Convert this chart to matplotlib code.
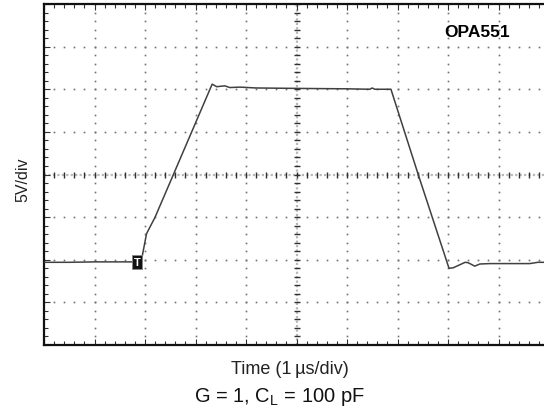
import matplotlib.pyplot as plt
import numpy as np

#%% data (divisions)
t_div = [0.0, 0.5, 1.0, 1.5, 1.9, 1.94, 1.98, 2.03, 2.2, 2.53, 3.33, 3.42,
         3.58, 3.68, 3.88, 4.2, 5.0, 6.0, 6.45, 6.5, 6.55, 6.87, 7.41, 8.02,
         8.1, 8.34, 8.4, 8.53, 8.63, 8.83, 9.62, 9.78, 10.0]
v_div = [-2.06, -2.06, -2.05, -2.05, -2.05, -1.95, -1.7, -1.39, -1.0, -0.09, 2.12, 2.06,
         2.08, 2.04, 2.05, 2.03, 2.02, 2.01, 2.0, 2.03, 2.0, 2.0, 0.0, -2.2,
         -2.19, -2.06, -2.07, -2.15, -2.1, -2.09, -2.09, -2.06, -2.06]

trigger_pos = (1.84, -2.05)
n_xdiv = 10
n_ydiv = 8

plt.rcParams['font.family'] = ['Liberation Sans', 'DejaVu Sans']

#%% figure
fig = plt.figure(figsize=(5.44, 4.10), dpi=100)
ax = fig.add_axes([44/544, 1 - 346/410, 505/544, 341/410])
ax.set_xlim(0, n_xdiv)
ax.set_ylim(-n_ydiv/2, n_ydiv/2)

# dotted graticule
minor_x = np.arange(0, n_xdiv + 0.01, 0.2)
minor_y = np.arange(-n_ydiv/2, n_ydiv/2 + 0.01, 0.2)
for yl in range(-3, 4):
    if yl == 0:
        continue
    ax.plot(minor_x, np.full_like(minor_x, yl), ls='none', marker='s', ms=1.2,
            mec='none', mfc='#707070', zorder=1)
for xl in range(1, n_xdiv):
    if xl == 5:
        continue
    ax.plot(np.full_like(minor_y, xl), minor_y, ls='none', marker='s', ms=1.2,
            mec='none', mfc='#707070', zorder=1)

# center cross with ticks
ax.axhline(0, color='#b8b8b8', lw=1.6, ls=(0, (1, 1)), zorder=1)
ax.axvline(5, color='#b8b8b8', lw=1.6, ls=(0, (1, 1)), zorder=1)
ax.plot(minor_x, np.zeros_like(minor_x), ls='none', marker='|', ms=5, mew=1,
        color='#303030', zorder=2)
ax.plot(np.full_like(minor_y, 5), minor_y, ls='none', marker='_', ms=5, mew=1,
        color='#303030', zorder=2)

# trace
ax.plot(t_div, v_div, color='#404040', lw=1.1, zorder=3)

# trigger marker
ax.text(trigger_pos[0], trigger_pos[1], 'T', color='white', fontsize=8, fontweight='bold',
        ha='center', va='center', zorder=4,
        bbox=dict(boxstyle='square,pad=0.15', fc='#111111', ec='#888888', lw=0.6))

ax.text(8.57, 3.35, 'OPA551', fontsize=12.5, fontweight='bold', ha='center', va='center')

# ticks on the frame
ax.set_xticks(np.arange(0, n_xdiv + 1, 1))
ax.set_yticks(np.arange(-4, 5, 1))
ax.set_xticks(minor_x, minor=True)
ax.set_yticks(minor_y, minor=True)
ax.tick_params(which='both', direction='in', top=True, right=False,
               labelbottom=False, labelleft=False, color='#303030', width=0.8)
ax.tick_params(which='major', length=4)
ax.tick_params(which='minor', length=3)

for side in ['left', 'top', 'bottom']:
    ax.spines[side].set_linewidth(1.6)
    ax.spines[side].set_color('#111111')
ax.spines['right'].set_visible(False)

fig.text(23/544, 1 - 180/410, '5V/div', rotation=90, fontsize=11.5,
         ha='center', va='center', color='#222222')
fig.text(290/544, 1 - 369.5/410, 'Time (1\u2009\u00b5s/div)', fontsize=13,
         ha='center', va='center', color='#222222')
fig.text(279/544, 1 - 397/410, 'G = 1, C$_\\mathregular{L}$ = 100 pF', fontsize=14.5,
         ha='center', va='center', color='#111111')

plt.savefig('out.png', dpi=100)
